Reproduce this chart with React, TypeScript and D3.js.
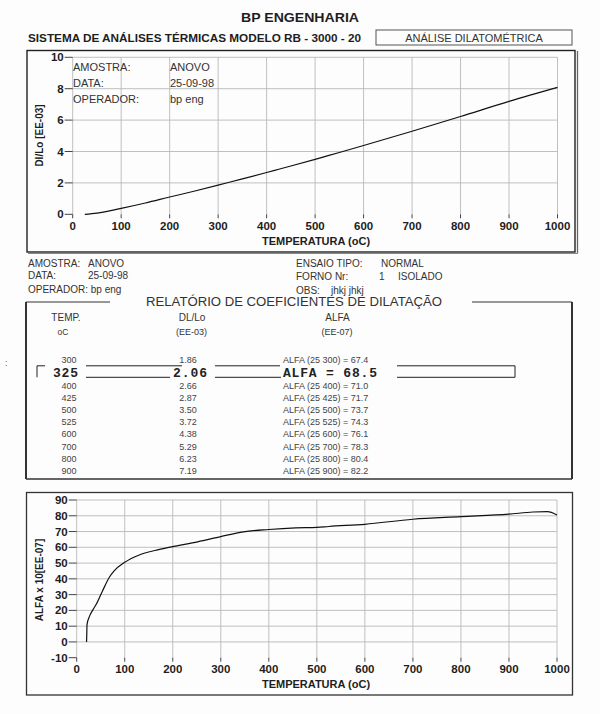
import * as d3 from "d3";

// Dilatometry report: DL/Lo curve, info block, coefficient table, alpha curve.

const SANS = "'Liberation Sans', Arial, sans-serif";
const MONO = "'Liberation Mono', 'Courier New', monospace";

const tempTicks = [0, 100, 200, 300, 400, 500, 600, 700, 800, 900, 1000];
const dlTicks = [0, 2, 4, 6, 8, 10];
const alfaTicks = [-10, 0, 10, 20, 30, 40, 50, 60, 70, 80, 90];

// DL/Lo (EE-03) vs temperature
const dlTemp = [25, 50, 100, 150, 200, 250, 300, 325, 400, 425, 500, 525, 600, 700, 800, 900, 1000];
const dlValue = [0, 0.08, 0.38, 0.72, 1.1, 1.47, 1.86, 2.06, 2.66, 2.87, 3.5, 3.72, 4.38, 5.29, 6.23, 7.19, 8.08];

// ALFA x 10 (EE-07) vs temperature
const alfaTemp = [20.5, 21, 21.5, 27, 34, 41, 54, 68, 78, 100, 129, 163, 197, 252, 300, 347, 400, 456, 500, 525, 600, 700, 800, 900, 950, 980, 1000];
const alfaValue = [0, 5, 11, 16.5, 20.5, 24, 32.5, 41, 45, 50.5, 55, 58, 60.3, 63.5, 66.8, 69.8, 71.3, 72.3, 72.6, 73.2, 74.6, 77.8, 79.4, 81.0, 82.4, 82.6, 80.5];

// report table
const rowTemp = ["300", "325", "400", "425", "500", "525", "600", "700", "800", "900"];
const rowDL = ["1.86", "2.06", "2.66", "2.87", "3.50", "3.72", "4.38", "5.29", "6.23", "7.19"];
const rowAlfa = ["67.4", "68.5", "71.0", "71.7", "73.7", "74.3", "76.1", "78.3", "80.4", "82.2"];
const highlightRow = 1;

const infoLeft = [
  ["AMOSTRA:", "ANOVO"],
  ["DATA:", "25-09-98"],
  ["OPERADOR:", "bp eng"],
];

const GRID = "#b9b9b9";
const INK = "#1e1e1e";

function Chart({
  x,
  y,
  yTicks,
  temp,
  vals,
  yTitle,
  yTitleY,
  labelBase,
  titleBase,
}: {
  x: d3.ScaleLinear<number, number>;
  y: d3.ScaleLinear<number, number>;
  yTicks: number[];
  temp: number[];
  vals: number[];
  yTitle: string;
  yTitleY: number;
  labelBase: number;
  titleBase: number;
}) {
  const [y0, y1] = y.range();
  const [x0, x1] = x.range();
  const line = d3
    .line<number>()
    .x((_, i) => x(temp[i]))
    .y((d) => y(d))
    .curve(d3.curveMonotoneX);
  const yMin = yTicks[0];
  return (
    <g>
      {tempTicks.map((t) => (
        <line key={"v" + t} x1={x(t)} x2={x(t)} y1={y1} y2={y0} stroke={GRID} strokeWidth={0.9} />
      ))}
      {yTicks
        .filter((v) => v !== yMin)
        .map((v) => (
          <line key={"h" + v} x1={x0} x2={x1} y1={y(v)} y2={y(v)} stroke={GRID} strokeWidth={0.9} />
        ))}
      {yTicks.map((v) => (
        <g key={"yt" + v}>
          <line x1={x0 - 8} x2={x0} y1={y(v)} y2={y(v)} stroke="#444" strokeWidth={1} />
          <text
            x={x0 - 9}
            y={y(v) + 4}
            textAnchor="end"
            fontFamily={SANS}
            fontWeight="bold"
            fontSize={11.5}
            fill={INK}
          >
            {v}
          </text>
        </g>
      ))}
      {tempTicks.map((t) => (
        <g key={"xt" + t}>
          <line x1={x(t)} x2={x(t)} y1={y0} y2={y0 + 4} stroke="#444" strokeWidth={1} />
          <text x={x(t)} y={labelBase} textAnchor="middle" fontFamily={SANS} fontWeight="bold" fontSize={11.5} fill={INK}>
            {t}
          </text>
        </g>
      ))}
      <text x={316} y={titleBase} textAnchor="middle" fontFamily={SANS} fontWeight="bold" fontSize={11} fill={INK}>
        TEMPERATURA (oC)
      </text>
      <text
        transform={`translate(43,${yTitleY}) rotate(-90)`}
        textAnchor="middle"
        fontFamily={SANS}
        fontWeight="bold"
        fontSize={10}
        fill={INK}
      >
        {yTitle}
      </text>
      <path d={line(vals) ?? ""} fill="none" stroke="#111" strokeWidth={1.2} />
    </g>
  );
}

export default function App() {
  const xTop = d3.scaleLinear().domain([0, 1000]).range([72.7, 557.5]);
  const yTop = d3.scaleLinear().domain([0, 10]).range([214.3, 57.3]);
  const xBot = d3.scaleLinear().domain([0, 1000]).range([76.7, 557]);
  const yBot = d3.scaleLinear().domain([-10, 90]).range([657.7, 500]);
  // plain rows after the highlighted one sit on an even 12.1px pitch
  const rowBelow = d3.scaleLinear().domain([2, rowTemp.length - 1]).range([385.8, 470.5]);
  const rowY = (i: number) => (i === 0 ? 359.3 : i === 1 ? 372.6 : rowBelow(i));

  const hy = rowY(highlightRow);
  const topLine = hy - 6.8;
  const botLine = hy + 4.7;

  return (
    <svg
      width={600}
      height={714}
      viewBox="0 0 600 714"
      style={{ position: "absolute", left: 0, top: 0, background: "#fdfdfd" }}
    >
      {/* header */}
      <text x={300} y={21.5} textAnchor="middle" fontFamily={SANS} fontWeight="bold" fontSize={12.5} fill={INK} textLength={118} lengthAdjust="spacingAndGlyphs">
        BP ENGENHARIA
      </text>
      <text x={28} y={41.5} fontFamily={SANS} fontWeight="bold" fontSize={10.5} fill={INK} textLength={333} lengthAdjust="spacingAndGlyphs">
        SISTEMA DE ANÁLISES TÉRMICAS MODELO RB - 3000 - 20
      </text>
      <rect x={376} y={30} width={196} height={15} fill="none" stroke="#555" strokeWidth={1} />
      <text x={474} y={41.5} textAnchor="middle" fontFamily={SANS} fontSize={11} fill="#333">
        ANÁLISE DILATOMÉTRICA
      </text>

      {/* top chart */}
      <rect x={27} y={50.5} width={548} height={201.5} fill="none" stroke="#222" strokeWidth={1.4} />
      <line x1={577.5} x2={577.5} y1={51} y2={253.5} stroke="#666" strokeWidth={1.3} />
      <line x1={28} x2={577.5} y1={253.5} y2={253.5} stroke="#888" strokeWidth={1} />
      <Chart
        x={xTop}
        y={yTop}
        yTicks={dlTicks}
        temp={dlTemp}
        vals={dlValue}
        yTitle="DI/Lo [EE-03]"
        yTitleY={135.5}
        labelBase={230}
        titleBase={245}
      />
      {infoLeft.map(([k, v], i) => (
        <g key={k} fontFamily={SANS} fontSize={11} fill="#333">
          <text x={73} y={71 + i * 16}>
            {k}
          </text>
          <text x={170} y={71 + i * 16}>
            {v}
          </text>
        </g>
      ))}

      {/* info block */}
      <g fontFamily={SANS} fontSize={10} fill="#333">
        {infoLeft.map(([k, v], i) =>
          i < 2 ? (
            <g key={"i" + k}>
              <text x={28} y={267 + i * 12}>
                {k}
              </text>
              <text x={88} y={267 + i * 12}>
                {v}
              </text>
            </g>
          ) : (
            <text key={"i" + k} x={28} y={293}>
              {k} {v}
            </text>
          )
        )}
        <text x={296} y={267}>ENSAIO TIPO:</text>
        <text x={381} y={267}>NORMAL</text>
        <text x={296} y={279.5}>FORNO Nr:</text>
        <text x={379} y={279.5}>1</text>
        <text x={398} y={279.5}>ISOLADO</text>
        <text x={296} y={294}>OBS:</text>
        <text x={331} y={294}>jhkj jhkj</text>
      </g>

      {/* report box */}
      <g stroke="#333" fill="none">
        <line x1={26} x2={110} y1={302} y2={302} strokeWidth={1} />
        <line x1={472} x2={572} y1={302} y2={302} strokeWidth={1} />
        <line x1={26} x2={26} y1={302} y2={479} strokeWidth={2} />
        <line x1={572} x2={572} y1={302} y2={479} strokeWidth={2} />
        <line x1={26} x2={572} y1={479} y2={479} strokeWidth={1.4} />
      </g>
      <text x={294} y={306} textAnchor="middle" fontFamily={SANS} fontSize={12} fill="#333" textLength={296} lengthAdjust="spacingAndGlyphs">
        RELATÓRIO DE COEFICIENTES DE DILATAÇÃO
      </text>
      <g fontFamily={SANS} fill="#333" textAnchor="middle">
        <text x={66} y={321} fontSize={10}>TEMP.</text>
        <text x={63} y={334.5} fontSize={8.5}>oC</text>
        <text x={192} y={321} fontSize={10}>DL/Lo</text>
        <text x={191.5} y={334.5} fontSize={9}>(EE-03)</text>
        <text x={337.5} y={321} fontSize={10}>ALFA</text>
        <text x={337} y={334.5} fontSize={9}>(EE-07)</text>
      </g>
      <text x={5} y={366} fontFamily={SANS} fontSize={9} fill="#555">:</text>

      {rowTemp.map((t, i) =>
        i === highlightRow ? (
          <g key={t} fontFamily={MONO} fontWeight="bold" fontSize={13} fill="#222">
            <text x={53} y={botLine} textLength={25} lengthAdjust="spacing">{t}</text>
            <text x={173} y={botLine} textLength={34} lengthAdjust="spacing">{rowDL[i]}</text>
            <text x={283} y={botLine} textLength={94} lengthAdjust="spacing">{`ALFA = ${rowAlfa[i]}`}</text>
          </g>
        ) : (
          <g key={t} fontFamily={SANS} fontSize={9} fill="#444">
            <text x={69} y={rowY(i) + 3.2} textAnchor="middle">{t}</text>
            <text x={188} y={rowY(i) + 3.2} textAnchor="middle">{rowDL[i]}</text>
            <text x={283} y={rowY(i) + 3.2}>{`ALFA (25 ${t}) =  ${rowAlfa[i]}`}</text>
          </g>
        )
      )}
      {/* highlight frame */}
      <g stroke="#222" strokeWidth={1} fill="none">
        <path d={`M45,${topLine} H37 V${botLine}`} />
        <line x1={86} x2={182} y1={topLine} y2={topLine} />
        <line x1={86} x2={170} y1={botLine} y2={botLine} />
        <line x1={215} x2={280} y1={topLine} y2={topLine} />
        <line x1={215} x2={281} y1={botLine} y2={botLine} />
        <path d={`M397,${topLine} H515 V${botLine} H397`} />
      </g>

      {/* bottom chart */}
      <rect x={26.5} y={492.5} width={546} height={202.5} fill="none" stroke="#333" strokeWidth={1.3} />
      <Chart
        x={xBot}
        y={yBot}
        yTicks={alfaTicks}
        temp={alfaTemp}
        vals={alfaValue}
        yTitle="ALFA x 10[EE-07]"
        yTitleY={580}
        labelBase={672.5}
        titleBase={687.5}
      />
    </svg>
  );
}
